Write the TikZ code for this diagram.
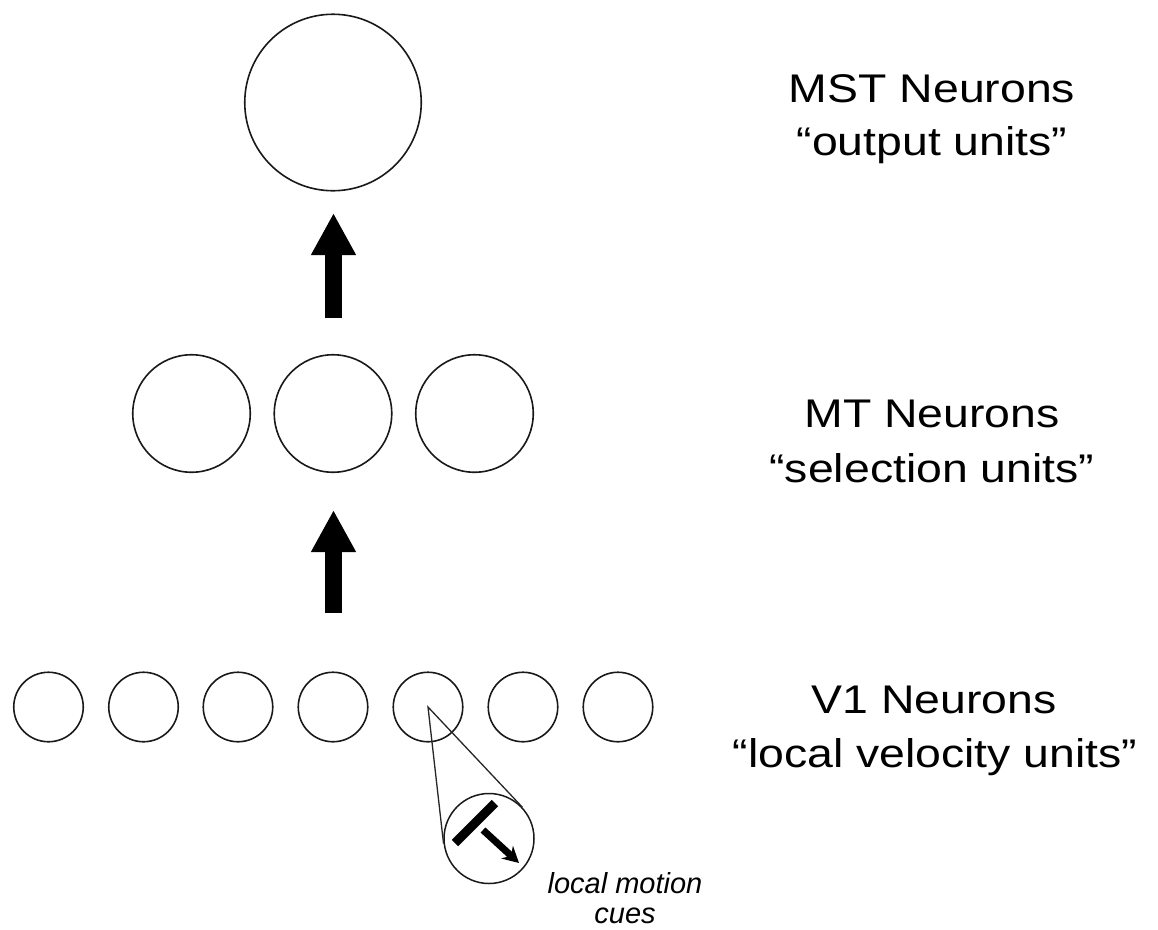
\documentclass[tikz,border=0pt]{standalone}
\usepackage{fontspec}
\setmainfont{Liberation Sans}
\newfontfamily\lblfont[FakeStretch=1.16]{Liberation Sans}
\usetikzlibrary{arrows.meta,calc}
\begin{document}
\begin{tikzpicture}[x=1pt,y=-1pt,
  cell/.style={circle,draw=black!90,line width=1.6pt,inner sep=0pt},
  v1cell/.style={cell,minimum size=69.5pt},
  mtcell/.style={cell,minimum size=117.5pt},
  lbl/.style={anchor=base,inner sep=0pt,font=\lblfont\fontsize{40}{48}\selectfont},
  cue/.style={anchor=base,inner sep=0pt,font=\itshape\fontsize{29}{34}\selectfont},
  bigarrow/.style={line width=17pt,-{Triangle[width=42pt,length=42pt]}},
  zoomline/.style={line width=1.3pt,draw=black!85}
]
\useasboundingbox[fill=white] (0,0) rectangle (1158,929);

% MST
\node[cell,minimum size=176.5pt] (mst) at (333,102.5) {};
% MT
\node[mtcell] (mt1) at (191.5,413.5) {};
\node[mtcell] (mt2) at (333,413.5) {};
\node[mtcell] (mt3) at (474.5,413.5) {};
% V1
\foreach \i/\x in {1/48.5,2/143.5,3/238,4/333,5/428,6/523,7/618}
  \node[v1cell] (v\i) at (\x,707) {};

% magnified cell
\node[cell,minimum size=90pt,line width=1.5pt] (mag) at (489,838.5) {};
\draw[zoomline] (tangent cs:node=mag,point={(v5.center)},solution=2) -- (v5.center)
  -- (tangent cs:node=mag,point={(v5.center)},solution=1);
\draw[line width=9pt] (455,843) -- (495,803);
\draw[line width=7pt,-{Stealth[length=16pt,width=17pt]}] (483,830) -- (519,863);

% big arrows
\coordinate (a1s) at (333.5,318);
\coordinate (a1e) at (333.5,213);
\coordinate (a2s) at (333.5,613);
\coordinate (a2e) at (333.5,510);
\draw[bigarrow] (a1s) -- (a1e);
\draw[bigarrow] (a2s) -- (a2e);

% labels
\node[lbl] (mstA) at (932,102) {MST Neurons};
\node[lbl] (mstB) at (932,155) {“output units”};
\node[lbl] (mtA) at (932,427) {MT Neurons};
\node[lbl] (mtB) at (932,482) {“selection units”};
\node[lbl] (v1A) at (934,713) {V1 Neurons};
\node[lbl] (v1B) at (935,767) {“local velocity units”};
\node[cue] (cueA) at (625,893) {local motion};
\node[cue] (cueB) at (625,923) {cues};
\end{tikzpicture}
\end{document}
